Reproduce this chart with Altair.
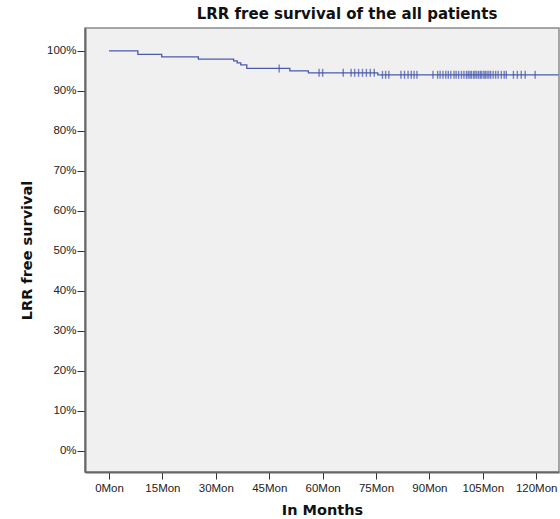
import altair as alt
import pandas as pd

# Kaplan-Meier step events: time (months) and survival (%) after the event
event_months = [0, 8.1, 14.8, 25.1, 35.0, 36.0, 37.0, 38.7, 50.8, 56.0, 75.5]
event_surv = [100.0, 99.1, 98.5, 97.9, 97.5, 97.0, 96.5, 95.6, 95.0, 94.5, 94.0]
max_followup = 126.3

# Censored observations (months)
censor_months = [47.8, 59.0, 60.0, 65.8, 68.0, 69.0, 70.1, 71.2, 72.3, 73.4, 74.5,
                 76.8, 77.7, 78.6, 82.0, 83.0, 84.0, 84.9, 85.7, 86.5,
                 91.0, 92.3, 93.0, 93.8, 94.6, 95.3, 96.0, 96.9, 97.5, 98.2,
                 99.0, 99.7, 100.4, 100.9, 101.4, 101.8, 102.4, 102.8, 103.3,
                 103.8, 104.3, 104.7, 105.3, 105.7, 106.2, 106.7, 107.2, 107.9,
                 108.6, 109.3, 110.2, 111.0, 111.6, 113.6, 114.7, 115.8, 116.9, 119.7]

x_ticks = [0, 15, 30, 45, 60, 75, 90, 105, 120]
y_ticks = [0, 10, 20, 30, 40, 50, 60, 70, 80, 90, 100]


def surv_at(t):
    s = event_surv[0]
    for et, es in zip(event_months, event_surv):
        if et <= t:
            s = es
    return s


line_df = pd.DataFrame({
    "t": event_months + [max_followup],
    "s": event_surv + [event_surv[-1]],
})
cens_df = pd.DataFrame({"t": censor_months, "s": [surv_at(t) for t in censor_months]})

FONT = "Liberation Sans"
TFONT = "DejaVu Sans"
BLUE = "#4b5bab"
CBLUE = "#3d4fae"

x_scale = alt.Scale(domain=[-6.75, 126.4], nice=False, zero=False)
y_scale = alt.Scale(domain=[-5.3, 105.7], nice=False, zero=False)

x_axis = alt.Axis(
    values=x_ticks, labelExpr="datum.value + 'Mon'", title="In Months",
    grid=False, tickSize=7, tickColor="#333333", labelPadding=3,
    labelFont=FONT, labelFontSize=11.5, labelColor="#222222",
    titleFont=TFONT, titleFontSize=14.5, titleFontWeight="bold", titlePadding=10,
    titleColor="#111111", domainColor="#666666", domainWidth=2, labelFlush=False,
)
y_axis = alt.Axis(
    values=y_ticks, labelExpr="datum.value + '%'", title="LRR free survival",
    grid=False, tickSize=8, tickColor="#333333", labelPadding=1,
    labelFont=FONT, labelFontSize=11.5, labelColor="#222222",
    titleFont=TFONT, titleFontSize=14.5, titleFontWeight="bold", titlePadding=12,
    titleColor="#111111", domainColor="#666666", domainWidth=2,
)

line = alt.Chart(line_df).mark_line(interpolate="step-after", color=BLUE, strokeWidth=1.3).encode(
    x=alt.X("t:Q", scale=x_scale, axis=x_axis),
    y=alt.Y("s:Q", scale=y_scale, axis=y_axis),
)
cens = alt.Chart(cens_df).mark_tick(orient="vertical", color=CBLUE, size=8, thickness=1.4).encode(
    x=alt.X("t:Q", scale=x_scale),
    y=alt.Y("s:Q", scale=y_scale),
)

chart = alt.layer(line, cens).properties(
    width=474, height=444,
    title=alt.TitleParams("LRR free survival of the all patients", font=TFONT, fontSize=15,
                          fontWeight="bold", color="#111111", anchor="middle", dx=25, offset=6),
    autosize=alt.AutoSizeParams(type="none"),
    padding={"left": 85, "top": 28, "right": 1, "bottom": 47},
).configure(background="white").configure_view(
    fill="#f0f0f0", stroke="#8a8a8a", strokeWidth=1.5,
)

chart.save("out.html", embed_options={"renderer": "svg", "actions": False})
